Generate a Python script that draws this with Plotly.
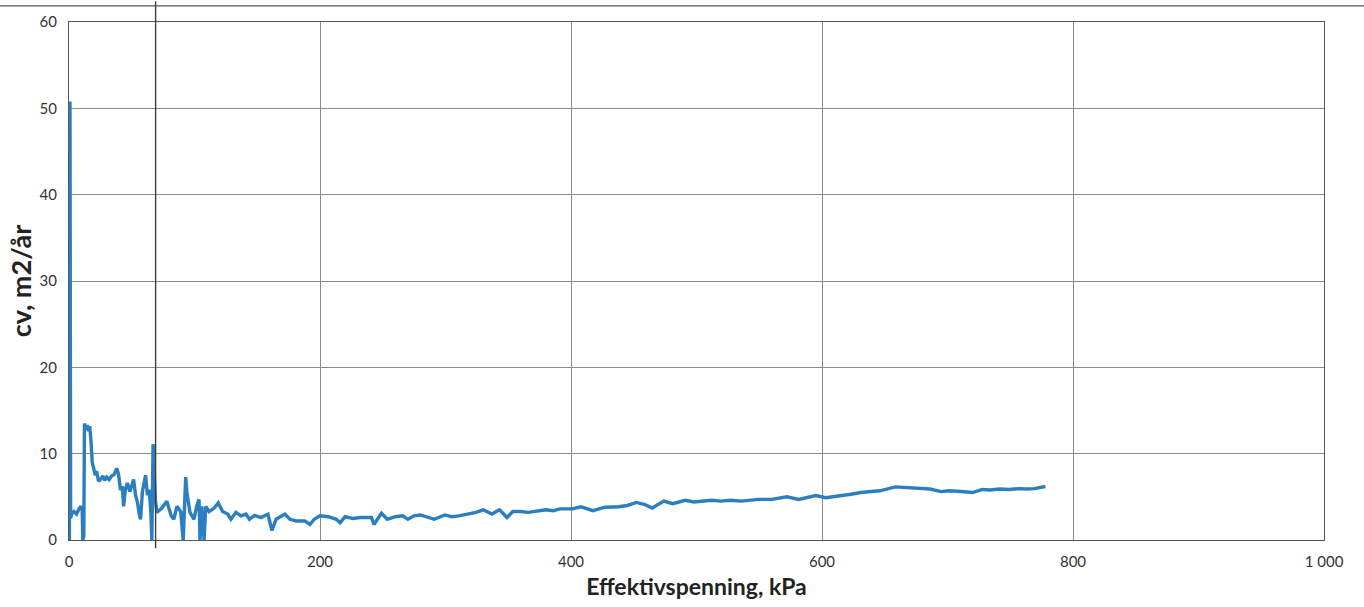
import plotly.graph_objects as go

# Effective stress (kPa) and consolidation coefficient cv (m2/år)
stress_kpa = [
    0.3, 0.8, 1.3, 2, 4, 6, 8, 9.5, 10.5, 11, 11.8, 12.3, 13.5, 14.5, 15.5, 16.5,
    17.5, 18.5, 19.5, 21, 22, 23.5, 25, 27, 28.5, 30, 32, 34, 36, 38, 39.5, 41,
    42.5, 43.5, 45, 46.5, 48.5, 50, 51.5, 53, 54.5, 56, 57, 58.5, 60, 61, 62.5,
    64, 65.3, 66, 67, 68, 68.8, 70, 74, 78, 81.4, 83.5, 86, 89, 91, 93, 94,
    96.4, 99.6, 101.7, 103.6, 104.4, 105.8, 107.6, 109, 111.6, 115.7, 118.9,
    122.4, 126.4, 129, 133, 137, 141, 143.8, 147.8, 153, 158.5, 161.7, 165,
    172, 176, 181, 188, 192, 195.4, 200, 206.7, 213, 216, 220, 226, 232, 241,
    243, 249, 253.6, 260, 266, 270, 275, 280, 286, 291, 299.4, 305, 310.5, 318,
    324.4, 330, 337, 343, 349, 353.6, 360, 366, 373, 380, 386, 391, 401, 408,
    417.5, 427, 438, 445, 452, 459, 464.7, 474, 481, 491, 498, 505, 512, 519,
    527, 535.5, 542, 549.4, 560, 572, 581.5, 588, 595, 603, 615, 623, 631, 638,
    646, 658.5, 664, 671, 678, 686, 695, 701, 708, 720, 727.7, 734, 741.5,
    749, 757, 763, 769, 778,
]
cv_m2_per_year = [
    0.0, 50.8, 2.5, 3.0, 3.3, 3.0, 3.6, 3.9, 3.5, 0.0, 0.5, 13.5, 12.8, 13.3,
    12.6, 13.2, 11.5, 9.0, 8.4, 7.5, 8.0, 6.8, 7.0, 7.4, 6.9, 7.3, 7.0, 7.4,
    7.6, 8.3, 7.6, 5.8, 6.2, 3.9, 5.9, 6.6, 5.6, 6.2, 7.0, 5.2, 4.4, 3.0, 2.4,
    5.6, 6.8, 7.5, 5.2, 5.8, 3.0, 0.0, 11.1, 6.0, 4.7, 3.2, 3.7, 4.5, 2.8,
    2.4, 3.9, 3.3, 0.0, 7.3, 5.4, 3.2, 2.4, 3.9, 4.7, 0.0, 3.9, 0.0, 3.9, 3.3,
    3.7, 4.3, 3.3, 3.0, 2.4, 3.2, 2.8, 3.0, 2.4, 2.85, 2.6, 3.0, 1.1, 2.4,
    3.0, 2.4, 2.2, 2.2, 1.8, 2.4, 2.8, 2.7, 2.4, 2.0, 2.7, 2.5, 2.6, 2.6,
    1.8, 3.1, 2.4, 2.7, 2.8, 2.4, 2.8, 2.9, 2.6, 2.4, 2.9, 2.7, 2.8, 3.0,
    3.2, 3.5, 3.0, 3.5, 2.6, 3.3, 3.3, 3.2, 3.4, 3.5, 3.4, 3.6, 3.6, 3.85,
    3.4, 3.8, 3.85, 4.0, 4.35, 4.1, 3.7, 4.5, 4.2, 4.6, 4.4, 4.5, 4.6, 4.5,
    4.6, 4.5, 4.6, 4.7, 4.7, 5.0, 4.7, 4.9, 5.15, 4.9, 5.2, 5.3, 5.5, 5.6,
    5.7, 6.15, 6.1, 6.0, 6.0, 5.9, 5.6, 5.7, 5.65, 5.5, 5.85, 5.8, 5.9,
    5.85, 5.95, 5.9, 5.95, 6.2,
]

x_ticks = [0, 200, 400, 600, 800, 1000]
x_tick_labels = ["0", "200", "400", "600", "800", "1 000"]
y_ticks = [0, 10, 20, 30, 40, 50, 60]

# Hand-drawn marker line at the preconsolidation stress
marker_stress = 69

fig = go.Figure()
fig.add_trace(go.Scatter(
    x=stress_kpa, y=cv_m2_per_year, mode="lines",
    line=dict(color="#2b7fc0", width=3.4),
    showlegend=False, hoverinfo="skip",
))

fig.add_shape(type="line", xref="x", yref="paper",
              x0=marker_stress, x1=marker_stress, y0=-0.016, y1=1.04,
              line=dict(color="#3c3c3c", width=1.4))
fig.add_shape(type="line", xref="paper", yref="paper",
              x0=-0.06, x1=1.04, y0=1.031, y1=1.031,
              line=dict(color="#5a5a5a", width=1.2))

font_family = "Lato, 'Open Sans', sans-serif"
tick_font = dict(family=font_family, size=15, color="#333333")
fig.update_layout(
    width=1364, height=607,
    margin=dict(l=69, r=40, t=20, b=67),
    paper_bgcolor="white", plot_bgcolor="white",
    font=tick_font,
    xaxis=dict(
        range=[0, 1000], tickvals=x_ticks, ticktext=x_tick_labels,
        showgrid=True, gridcolor="#8a8a8a", gridwidth=1,
        showline=True, linecolor="#555555", linewidth=1, mirror=True,
        zeroline=False, ticks="outside", ticklen=8, tickcolor="rgba(0,0,0,0)",
        tickfont=tick_font,
        title=dict(text="<b>Effektivspenning, kPa</b>", standoff=9,
                   font=dict(family=font_family, size=23, color="#222222")),
    ),
    yaxis=dict(
        range=[0, 60], tickvals=y_ticks,
        showgrid=True, gridcolor="#8a8a8a", gridwidth=1,
        showline=True, linecolor="#555555", linewidth=1, mirror=True,
        zeroline=False, ticks="outside", ticklen=8, tickcolor="rgba(0,0,0,0)",
        tickfont=tick_font,
        title=dict(text="<b>cv, m2/år</b>", standoff=0,
                   font=dict(family=font_family, size=27, color="#222222")),
    ),
)

fig.write_html("out.html")
